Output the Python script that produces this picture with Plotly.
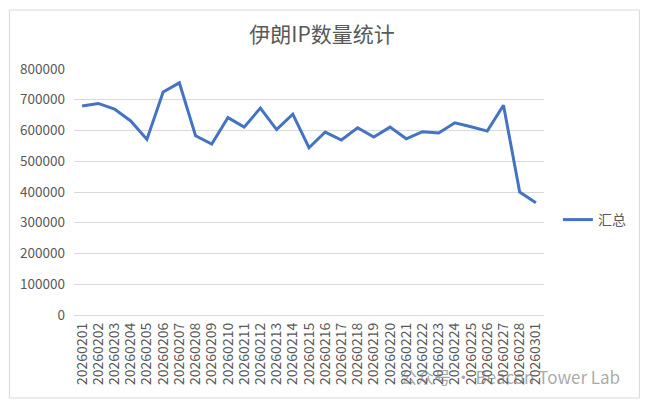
import plotly.graph_objects as go

dates = ["20260201", "20260202", "20260203", "20260204", "20260205", "20260206",
         "20260207", "20260208", "20260209", "20260210", "20260211", "20260212",
         "20260213", "20260214", "20260215", "20260216", "20260217", "20260218",
         "20260219", "20260220", "20260221", "20260222", "20260223", "20260224",
         "20260225", "20260226", "20260227", "20260228", "20260301"]
totals = [680000, 688000, 670000, 631000, 571000, 725000, 755000, 583000, 556000,
          642000, 611000, 673000, 603000, 653000, 544000, 595000, 569000, 609000,
          579000, 611000, 573000, 596000, 592000, 625000, 612000, 598000, 682000,
          400000, 365000]
y_ticks = [0, 100000, 200000, 300000, 400000, 500000, 600000, 700000, 800000]

# page body has an 8px default margin; work in page pixels and shift
OFF = 8
W, H = 650 - OFF, 406 - OFF
L, R, T, B = 71 - OFF, 544 - OFF, 69 - OFF, 315 - OFF
pw, ph = R - L, B - T

def px(x):
    return (x - OFF - L) / pw

def py(y):
    return (B - (y - OFF)) / ph

font_fam = "Noto Sans CJK SC, Noto Sans, sans-serif"
grey = "#595959"

fig = go.Figure()
fig.add_trace(go.Scatter(x=dates, y=totals, mode="lines", name="汇总",
                         line=dict(color="#4472C4", width=3)))

fig.update_layout(
    width=W, height=H,
    margin=dict(l=L, r=W - R, t=T, b=H - B),
    paper_bgcolor="white", plot_bgcolor="white",
    font=dict(family=font_fam, color=grey, size=13),
    title=dict(text="伊朗IP数量统计", xref="container", x=(322 - OFF) / W,
               xanchor="center", yref="container",
               y=1 - (35 - OFF) / H, yanchor="middle",
               font=dict(size=21, color=grey, family=font_fam)),
    showlegend=True,
    legend=dict(x=px(558), y=py(220), xanchor="left", yanchor="middle",
                font=dict(size=14, color=grey), bgcolor="rgba(0,0,0,0)"),
    xaxis=dict(type="category", tickangle=-90, showgrid=False, zeroline=False,
               showline=False, ticks="", tickmode="array", tickvals=dates,
               ticktext=dates, tickfont=dict(size=14, color=grey),
               ticklabelstandoff=4,
               range=[-0.5, len(dates) - 0.5]),
    yaxis=dict(range=[0, 800000], tickvals=y_ticks,
               ticktext=[str(v) for v in y_ticks],
               showgrid=True, gridcolor="#D9D9D9", gridwidth=1,
               zeroline=True, zerolinecolor="#D9D9D9", zerolinewidth=1,
               showline=False, ticks="", ticklabelstandoff=8,
               tickfont=dict(size=13.5, color=grey)),
    shapes=[dict(type="rect", xref="paper", yref="paper",
                 x0=px(6), x1=px(640), y0=py(398), y1=py(10),
                 line=dict(color="#D9D9D9", width=1), fillcolor="rgba(0,0,0,0)",
                 layer="below")],
    annotations=[dict(text="公众号 · Beacon Tower Lab", xref="paper", yref="paper",
                      x=px(622), y=py(376), xanchor="right", yanchor="middle",
                      showarrow=False,
                      font=dict(size=17, color="rgba(110,110,110,0.6)",
                                family=font_fam))],
)

fig.write_html("out.html")
